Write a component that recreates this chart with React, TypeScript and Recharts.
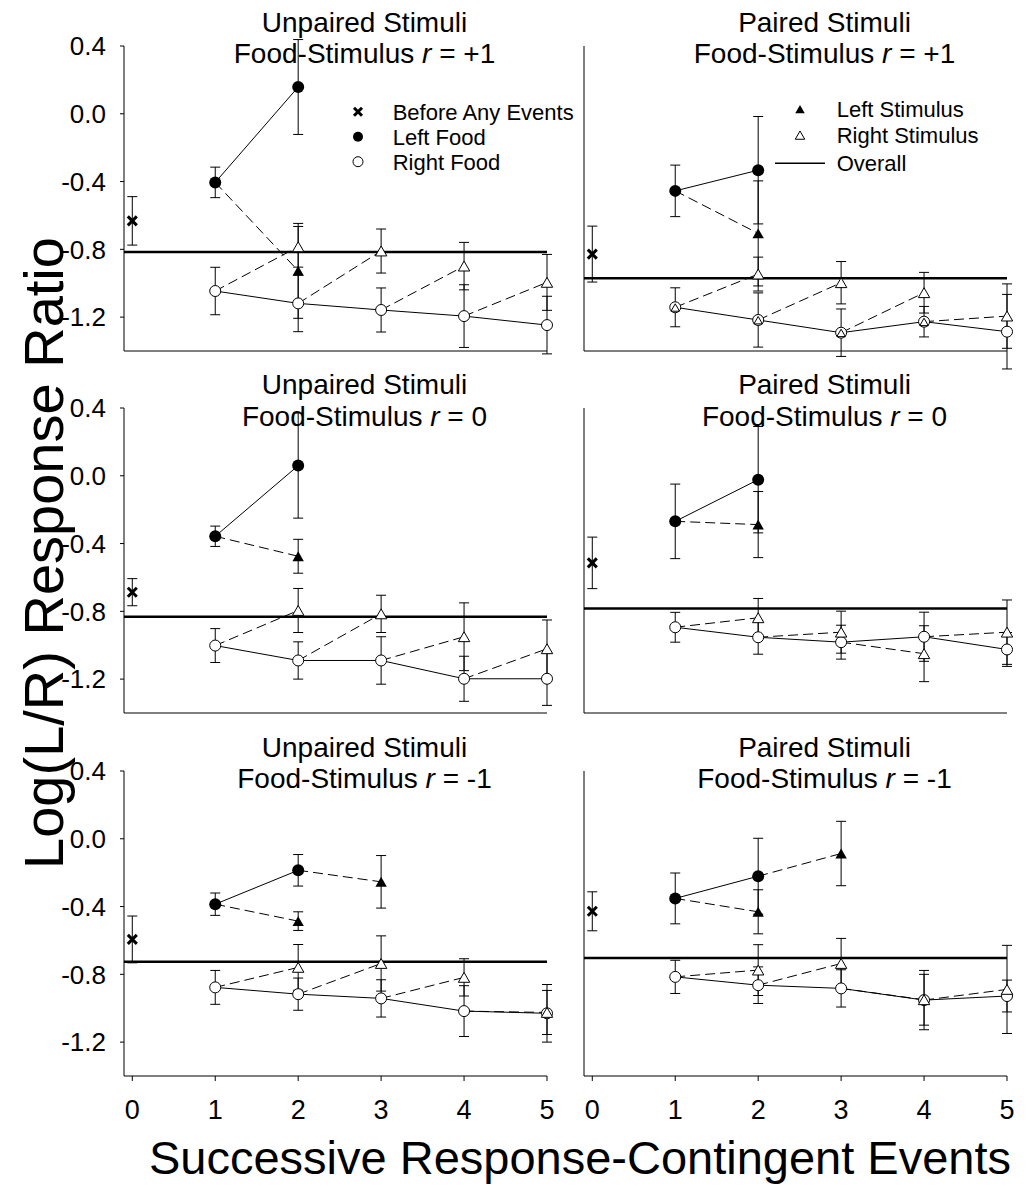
import React from "react";
import { ScatterChart, Scatter, XAxis, YAxis, ErrorBar, ReferenceLine } from "recharts";

// panel order: unpaired r=+1, paired r=+1, unpaired r=0, paired r=0, unpaired r=-1, paired r=-1
const conditions = ["Unpaired Stimuli", "Paired Stimuli"];
const correlations = ["+1", "0", "-1"];

const eventTicks = [0, 1, 2, 3, 4, 5];
const ratioTicks = [0.4, 0, -0.4, -0.8, -1.2];

const beforeMean = [-0.632, -0.828, -0.687, -0.514, -0.594, -0.428];
const beforeErr = [0.143, 0.165, 0.08, 0.152, 0.138, 0.115];

const overallMean = [-0.815, -0.971, -0.832, -0.783, -0.726, -0.703];

const leftFoodEvents = [1, 2];
const leftFoodMean = [
  [-0.405, 0.158],
  [-0.455, -0.333],
  [-0.357, 0.06],
  [-0.269, -0.023],
  [-0.386, -0.186],
  [-0.352, -0.221],
];
const leftFoodErr = [
  [0.09, 0.28],
  [0.152, 0.317],
  [0.06, 0.31],
  [0.22, 0.314],
  [0.066, 0.093],
  [0.15, 0.224],
];

const leftStimEvents = [2, 3];
const leftStimMean = [
  [-0.927, null],
  [-0.706, null],
  [-0.475, null],
  [-0.288, null],
  [-0.486, -0.254],
  [-0.431, -0.087],
];
const leftStimErr = [
  [0.28, null],
  [0.31, null],
  [0.1, null],
  [0.195, null],
  [0.055, 0.155],
  [0.13, 0.19],
];

const rightFoodEvents = [1, 2, 3, 4, 5];
const rightFoodMean = [
  [-1.046, -1.119, -1.158, -1.194, -1.247],
  [-1.142, -1.217, -1.292, -1.227, -1.286],
  [-1.002, -1.09, -1.09, -1.198, -1.198],
  [-0.894, -0.953, -0.982, -0.95, -1.025],
  [-0.877, -0.917, -0.942, -1.017, -1.03],
  [-0.815, -0.864, -0.883, -0.952, -0.928],
];
const rightFoodErr = [
  [0.14, 0.167, 0.13, 0.185, 0.17],
  [0.115, 0.16, 0.14, 0.09, 0.22],
  [0.1, 0.11, 0.14, 0.133, 0.157],
  [0.088, 0.1, 0.1, 0.145, 0.1],
  [0.1, 0.095, 0.11, 0.15, 0.17],
  [0.098, 0.108, 0.11, 0.175, 0.094],
];

const rightStimEvents = [2, 3, 4, 5];
const rightStimMean = [
  [-0.785, -0.81, -0.899, -0.995],
  [-0.946, -0.997, -1.056, -1.194],
  [-0.795, -0.815, -0.95, -1.021],
  [-0.838, -0.923, -1.05, -0.923],
  [-0.759, -0.736, -0.818, -1.025],
  [-0.775, -0.736, -0.95, -0.889],
];
const rightStimErr = [
  [0.12, 0.13, 0.14, 0.165],
  [0.1, 0.125, 0.12, 0.19],
  [0.13, 0.11, 0.2, 0.17],
  [0.114, 0.124, 0.165, 0.19],
  [0.135, 0.163, 0.11, 0.13],
  [0.15, 0.148, 0.15, 0.26],
];

// only the top paired panel shows a stimulus marker sitting on each food point
const stimMarkerOnFood = [false, true, false, false, false, false];

const FONT = '"Liberation Sans", Arial, Helvetica, sans-serif';
const PLOT_LEFT = [124, 584];
const PLOT_TOP = [45.7, 408.3, 770.7];
const PLOT_W = 423;
const PLOT_H = 305;
const AXIS_W = 124;
const CHART_W = 560;
const TOP = 46;
const XAXIS_H = 62;
const DASH = { stroke: "#000", strokeWidth: 1, strokeDasharray: "10 5" };
const SOLID = { stroke: "#000", strokeWidth: 1 };

type Pt = { x: number; y: number; e: number };

function toPoints(xs: number[], ys: (number | null)[], es: (number | null)[]): Pt[] {
  const out: Pt[] = [];
  xs.forEach((x, i) => {
    const y = ys[i];
    if (y != null) out.push({ x, y, e: es[i] ?? 0 });
  });
  return out;
}

// food at event k joined by a dashed line to the stimulus at k+1
function segments(food: Pt[], stim: Pt[]) {
  const segs: Pt[][] = [];
  stim.forEach((s) => {
    const f = food.find((p) => p.x === s.x - 1);
    if (f) segs.push([f, s]);
  });
  return segs;
}

const triPath = (cx: number, cy: number, s: number) =>
  `M${cx},${cy - s} L${cx + s * 0.95},${cy + s * 0.65} L${cx - s * 0.95},${cy + s * 0.65} Z`;

const noShape = () => <g />;
const openCircle = (p: any) => <circle cx={p.cx} cy={p.cy} r={5.5} fill="#fff" stroke="#000" strokeWidth={1} />;
const filledCircle = (p: any) => <circle cx={p.cx} cy={p.cy} r={6} fill="#000" />;
const filledTri = (p: any) => <path d={triPath(p.cx, p.cy + 1, 6)} fill="#000" />;
const openTri = (p: any) => <path d={triPath(p.cx, p.cy + 1, 6)} fill="#fff" stroke="#000" strokeWidth={1} />;
const smallOpenTri = (p: any) => <path d={triPath(p.cx, p.cy + 1, 4.5)} fill="none" stroke="#000" strokeWidth={1} />;
const xMark = (p: any) => (
  <g stroke="#000" strokeWidth={3}>
    <line x1={p.cx - 4.5} y1={p.cy - 4.5} x2={p.cx + 4.5} y2={p.cy + 4.5} />
    <line x1={p.cx - 4.5} y1={p.cy + 4.5} x2={p.cx + 4.5} y2={p.cy - 4.5} />
  </g>
);

const errBar = <ErrorBar dataKey="e" direction="y" width={5} stroke="#000" strokeWidth={1} />;

function Panel({ idx }: { idx: number }) {
  const col = idx % 2;
  const row = Math.floor(idx / 2);
  const bottom = row === 2;

  const before = toPoints([0], [beforeMean[idx]], [beforeErr[idx]]);
  const lf = toPoints(leftFoodEvents, leftFoodMean[idx], leftFoodErr[idx]);
  const ls = toPoints(leftStimEvents, leftStimMean[idx], leftStimErr[idx]);
  const rf = toPoints(rightFoodEvents, rightFoodMean[idx], rightFoodErr[idx]);
  const rs = toPoints(rightStimEvents, rightStimMean[idx], rightStimErr[idx]);
  const dashed = [...segments(lf, ls), ...segments(rf, rs)];
  const onFood = stimMarkerOnFood[idx] ? segments(rf, rs).map((s) => s[0]) : [];

  return (
    <div style={{ position: "absolute", left: PLOT_LEFT[col] - AXIS_W, top: PLOT_TOP[row] - TOP }}>
      <ScatterChart
        width={CHART_W}
        height={TOP + PLOT_H + XAXIS_H}
        margin={{ top: TOP, right: CHART_W - AXIS_W - PLOT_W, bottom: 0, left: 0 }}
      >
        <XAxis
          type="number"
          dataKey="x"
          domain={[-0.1, 5]}
          ticks={eventTicks}
          interval={0}
          height={XAXIS_H}
          tickSize={5}
          tickMargin={19}
          stroke="#000"
          tick={bottom ? { fill: "#000", fontSize: 27 } : false}
        />
        <YAxis
          type="number"
          dataKey="y"
          domain={[-1.4, 0.4]}
          allowDataOverflow
          ticks={ratioTicks}
          interval={0}
          width={AXIS_W}
          tickSize={4}
          tickMargin={14}
          stroke="#000"
          tickFormatter={(v: number) => v.toFixed(1)}
          tick={col === 0 ? { fill: "#000", fontSize: 26 } : false}
        />
        <ReferenceLine y={overallMean[idx]} stroke="#000" strokeWidth={2.5} />
        {dashed.map((seg, i) => (
          <Scatter
            key={`d${i}`}
            data={seg}
            line={DASH}
            lineJointType="linear"
            shape={noShape}
            isAnimationActive={false}
          />
        ))}
        <Scatter data={rf} line={SOLID} lineJointType="linear" shape={openCircle} isAnimationActive={false}>
          {errBar}
        </Scatter>
        <Scatter data={onFood} shape={smallOpenTri} isAnimationActive={false} />
        <Scatter data={lf} line={SOLID} lineJointType="linear" shape={filledCircle} isAnimationActive={false}>
          {errBar}
        </Scatter>
        <Scatter data={rs} shape={openTri} isAnimationActive={false}>
          {errBar}
        </Scatter>
        <Scatter data={ls} shape={filledTri} isAnimationActive={false}>
          {errBar}
        </Scatter>
        <Scatter data={before} shape={xMark} isAnimationActive={false}>
          {errBar}
        </Scatter>
      </ScatterChart>
    </div>
  );
}

export default function App() {
  const titleX = [PLOT_LEFT[0] + PLOT_W / 2 + 29, PLOT_LEFT[1] + PLOT_W / 2 + 29];
  return (
    <div style={{ position: "absolute", left: 0, top: 0, width: 1026, height: 1185, background: "#fff", fontFamily: FONT }}>
      {[0, 1, 2, 3, 4, 5].map((i) => (
        <Panel key={i} idx={i} />
      ))}
      <svg
        width={1026}
        height={1185}
        style={{ position: "absolute", left: 0, top: 0, pointerEvents: "none", fontFamily: FONT }}
      >
        {correlations.map((r, row) =>
          conditions.map((c, col) => (
            <g key={`${row}-${col}`} fontSize={28} textAnchor="middle" fill="#000">
              <text x={titleX[col]} y={PLOT_TOP[row] - 14}>
                {c}
              </text>
              <text x={titleX[col]} y={PLOT_TOP[row] + 17.6}>
                Food-Stimulus <tspan fontStyle="italic">r</tspan> = {r}
              </text>
            </g>
          ))
        )}
        <text x={580} y={1174} fontSize={47} textAnchor="middle">
          Successive Response-Contingent Events
        </text>
        <text x={63} y={553} fontSize={56} textAnchor="middle" transform="rotate(-90 63 553)">
          Log(L/R) Response Ratio
        </text>

        <g fontSize={22}>
          <g stroke="#000" strokeWidth={3}>
            <line x1={354} y1={107.7} x2={362} y2={115.7} />
            <line x1={354} y1={115.7} x2={362} y2={107.7} />
          </g>
          <circle cx={358} cy={136.7} r={5} fill="#000" />
          <circle cx={358} cy={161.7} r={5} fill="#fff" stroke="#000" />
          <text x={392.7} y={119.5}>Before Any Events</text>
          <text x={392.7} y={144.5}>Left Food</text>
          <text x={392.7} y={169.5}>Right Food</text>

          <path d={triPath(800, 110, 5)} fill="#000" />
          <path d={triPath(800, 136, 5)} fill="#fff" stroke="#000" />
          <line x1={775} y1={163.3} x2={825} y2={163.3} stroke="#000" strokeWidth={1.5} />
          <text x={836.7} y={117.2}>Left Stimulus</text>
          <text x={836.7} y={142.9}>Right Stimulus</text>
          <text x={836.7} y={171.2}>Overall</text>
        </g>
      </svg>
    </div>
  );
}
